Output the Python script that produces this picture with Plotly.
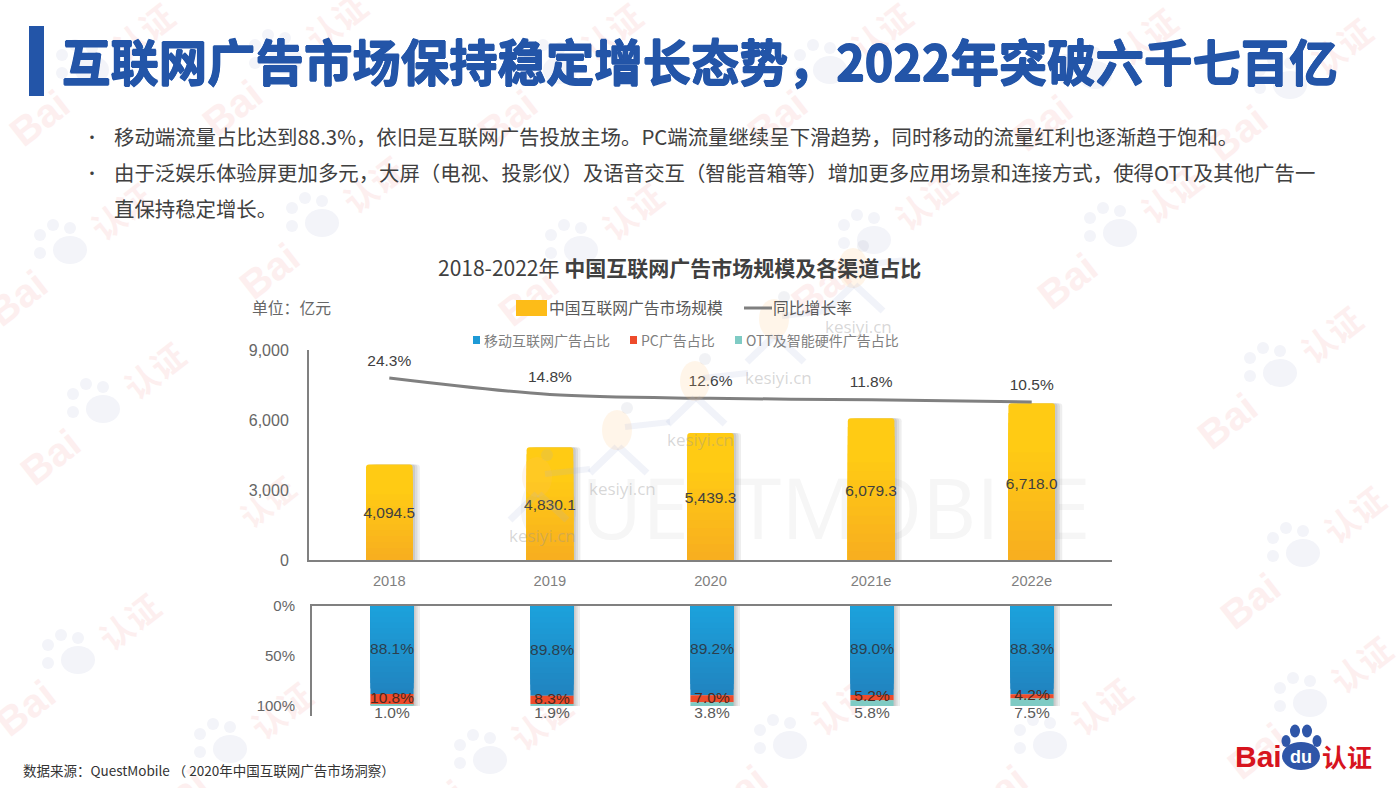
import plotly.graph_objects as go

W, H = 1400, 788
categories = ["2018", "2019", "2020", "2021e", "2022e"]
market_size = [4094.5, 4830.1, 5439.3, 6079.3, 6718.0]
growth_rate = [24.3, 14.8, 12.6, 11.8, 10.5]
mobile_share = [88.1, 89.8, 89.2, 89.0, 88.3]
pc_share = [10.8, 8.3, 7.0, 5.2, 4.2]
ott_share = [1.0, 1.9, 3.8, 5.8, 7.5]
value_ticks = [0, 3000, 6000, 9000]
share_ticks = [0, 50, 100]

CJK = "Noto Sans CJK SC"
LAT = "Liberation Sans"
BLUE = "#2355A8"

def px(x): return x / W
def py(y): return 1 - y / H
def mix(a, b, t):
    return "#" + "".join(f"{round(a[i] + (b[i] - a[i]) * t):02x}" for i in range(3))

fig = go.Figure()
ann, shp = [], []

def text(x, y, s, size=16, color="#404040", anchor="left", family=CJK, angle=0, weight=None, shadow=None):
    f = dict(size=size, color=color, family=family)
    if weight:
        f["weight"] = weight
    if shadow:
        f["shadow"] = shadow
    ann.append(dict(x=px(x), y=py(y), xref="paper", yref="paper", text=s, showarrow=False,
                    xanchor=anchor, yanchor="middle", font=f, textangle=angle,
                    align="left", borderpad=0))

def back_text(x, y, s, size, color, family=CJK, angle=0, weight=None):
    """Text drawn under the bars, as the label of an invisible shape."""
    f = dict(size=size, color=color, family=family)
    if weight:
        f["weight"] = weight
    shp.append(dict(type="rect", xref="paper", yref="paper", x0=px(x - 2), x1=px(x + 2),
                    y0=py(y + 2), y1=py(y - 2), fillcolor="rgba(0,0,0,0)", line_width=0, layer="below",
                    label=dict(text=s, font=f, textangle=angle, textposition="middle center")))

def circle(cx, cy, rx, ry, color, layer="below", line=None):
    s = dict(type="circle", xref="paper", yref="paper", x0=px(cx - rx), x1=px(cx + rx),
             y0=py(cy + ry), y1=py(cy - ry), fillcolor=color, line_width=0, layer=layer)
    if line:
        s["line"] = dict(color=line, width=2)
        s["fillcolor"] = "rgba(0,0,0,0)"
    shp.append(s)

def rect(x0, y0, x1, y1, color, layer="above"):
    shp.append(dict(type="rect", xref="paper", yref="paper", x0=px(x0), x1=px(x1),
                    y0=py(y1), y1=py(y0), fillcolor=color, line_width=0, layer=layer))

def stroke(x0, y0, x1, y1, color, width, layer="below"):
    shp.append(dict(type="line", xref="paper", yref="paper", x0=px(x0), x1=px(x1), y0=py(y0), y1=py(y1),
                    line=dict(color=color, width=width), layer=layer))

# Background "Baidu 认证" watermarks, one per paw centre
RED_W, BLUE_W = "#fdefef", "#f3f4f9"
def watermark(cx, cy):
    back_text(cx - 55, cy + 45, "Bai", 40, RED_W, LAT, -38, 700)
    circle(cx, cy, 17, 14, BLUE_W)
    for dx, dy, in [(-30, -15), (-17, -25), (0, -22), (-30, 3)]:
        circle(cx + dx, cy + dy, 6, 6, BLUE_W)
    back_text(cx + 54, cy - 35, "认证", 33, RED_W, CJK, -38, 700)

for c in [(92, 70), (285, 60), (560, 70), (830, 70), (1095, 75), (1290, 85),
          (70, 250), (322, 223), (581, 250), (874, 240), (1120, 233),
          (103, 409), (1280, 373), (1303, 553), (78, 660), (1310, 703),
          (230, 749), (490, 760), (790, 745), (1050, 745)]:
    watermark(*c)

# Faint third-party marks behind and over the chart
for r in (40, 75, 110):
    circle(370, 500, r, r, None, "below", "#f8f8f8")
back_text(270, 505, "认证", 30, "#fdf0ef", CJK, -38, 700)
back_text(803, 512, "QUESTMOBILE", 84, "#f6f6f6", "Open Sans")

def runner(cx, cy):
    a = 0.16
    circle(cx, cy - 17, 15, 20, f"rgba(253,190,120,{a})", "above")
    circle(cx + 10, cy - 39, 6, 6, f"rgba(170,175,190,{a})", "above")
    stroke(cx + 8, cy - 20, cx + 53, cy - 25, f"rgba(170,180,215,{a})", 6, "above")
    stroke(cx, cy, cx - 27, cy + 26, f"rgba(170,180,215,{a})", 7, "above")
    stroke(cx + 2, cy, cx + 30, cy + 26, f"rgba(170,180,215,{a})", 7, "above")

for (cx, cy) in [(858, 326), (779, 377), (700, 439), (622, 488), (542, 535)]:
    runner(cx - 5, cy - 41)
    text(cx, cy, "kesiyi.cn", 17, "rgba(150,150,150,0.38)", "center", "Open Sans")

# Header
rect(29, 26, 44, 96, BLUE, "below")
thick = f"0.7px 0 0 {BLUE}, -0.7px 0 0 {BLUE}, 0 0.7px 0 {BLUE}, 0 -0.7px 0 {BLUE}"
text(61, 60, "互联网广告市场保持稳定增长态势，2022年突破六千七百亿", 48.4, BLUE, weight=700, shadow=thick)
body = [
    (136, "移动端流量占比达到88.3%，依旧是互联网广告投放主场。PC端流量继续呈下滑趋势，同时移动的流量红利也逐渐趋于饱和。"),
    (172, "由于泛娱乐体验屏更加多元，大屏（电视、投影仪）及语音交互（智能音箱等）增加更多应用场景和连接方式，使得OTT及其他广告一"),
    (208, "直保持稳定增长。"),
]
for y, s in body:
    text(113, y, s, 20.4, "#404040")
text(92, 136, "•", 16, "#404040", "center")
text(92, 172, "•", 16, "#404040", "center")

# Chart title, unit and legend rows
text(437, 267, "2018-2022年 <b>中国互联网广告市场规模及各渠道占比</b>", 21, "#404040")
text(251, 308, "单位：亿元", 15.8, "#666666")
shp.append(dict(type="rect", xref="paper", yref="paper", x0=px(516), x1=px(547), y0=py(316), y1=py(300),
                fillcolor="#FDBC18", line_width=0, layer="above"))
text(548, 308, "中国互联网广告市场规模", 15.8, "#595959")
stroke(744, 308, 772, 308, "#7f7f7f", 3, "above")
text(772, 308, "同比增长率", 15.8, "#595959")
rect(473, 336, 480, 344, "#1E9AD6")
text(483, 340, "移动互联网广告占比", 14, "#7f7f7f")
rect(630, 336, 637, 344, "#EE4B2B")
text(640, 340, "PC广告占比", 14, "#7f7f7f")
rect(735, 336, 742, 344, "#7FCBC4")
text(745, 340, "OTT及智能硬件广告占比", 14, "#7f7f7f")

# Footer
text(22, 770, "数据来源：QuestMobile （ 2020年中国互联网广告市场洞察）", 13.5, "#333333")

# Logo
text(1258, 756, "Bai", 30, "#D7141E", "center", LAT, 0, 700)
circle(1301, 756, 19, 14, "#2F56A8", "above")
for (cx, cy, rx, ry) in [(1286, 741, 4.5, 6), (1295, 731, 5, 6.5), (1307, 731, 5, 6.5), (1317, 741, 4.5, 6)]:
    circle(cx, cy, rx, ry, "#2F56A8", "above")
text(1301, 757, "du", 18, "#ffffff", "center", LAT, 0, 700)
text(1347, 756, "认证", 25, "#D7141E", "center", CJK, 0, 700)

# Upper panel: bars with a soft shadow and stepped vertical gradient
TOP_W = 0.29
for off, alpha in [(0.045, 0.10), (0.03, 0.12), (0.015, 0.14)]:
    fig.add_trace(go.Bar(x=categories, y=market_size, width=TOP_W, offset=-TOP_W / 2 + off,
                         marker=dict(color=f"rgba(90,90,90,{alpha})", cornerradius=3, line_width=0),
                         hoverinfo="skip", showlegend=False))
GRAD = 16
y_top, y_bot = (255, 203, 20), (247, 172, 32)
for i in range(GRAD):
    k = 1 - i / GRAD
    col = mix(y_top, y_bot, max(0, (i / GRAD - 0.25) / 0.75))
    fig.add_trace(go.Bar(x=categories, y=[v * k for v in market_size], width=TOP_W,
                         marker=dict(color=col, cornerradius=3 if i == 0 else 0, line_width=0),
                         hoverinfo="skip", showlegend=False, name="中国互联网广告市场规模"))
fig.add_trace(go.Scatter(x=categories, y=[v * 0.48 for v in market_size], mode="text",
                         text=[f"{v:,.1f}" for v in market_size], textposition="middle center",
                         textfont=dict(size=15.5, color="#404040", family=LAT),
                         cliponaxis=False, showlegend=False, hoverinfo="skip"))
fig.add_trace(go.Scatter(x=categories, y=growth_rate, yaxis="y3", mode="lines+markers+text",
                         line=dict(color="#808080", width=3, shape="spline", smoothing=0.9),
                         marker=dict(size=12, color="rgba(0,0,0,0)", line_width=0),
                         text=[f"{v:.1f}%" for v in growth_rate], textposition="top center",
                         textfont=dict(size=15.5, color="#404040", family=LAT),
                         cliponaxis=False, showlegend=False, name="同比增长率"))

# Lower panel: 100% stacked shares, growing downward
LOW_W = 0.27
pc_end = [a + b for a, b in zip(mobile_share, pc_share)]
ott_end = [a + b for a, b in zip(pc_end, ott_share)]
for off, alpha in [(0.04, 0.10), (0.025, 0.12), (0.012, 0.14)]:
    fig.add_trace(go.Bar(x=categories, y=ott_end, xaxis="x2", yaxis="y2", width=LOW_W,
                         offset=-LOW_W / 2 + off, marker=dict(color=f"rgba(90,90,90,{alpha})", line_width=0),
                         hoverinfo="skip", showlegend=False))
b_top, b_bot = (28, 163, 221), (32, 132, 192)
for i in range(GRAD):
    k = 1 - i / GRAD
    fig.add_trace(go.Bar(x=categories, y=[v * k for v in mobile_share], base=[0] * 5,
                         xaxis="x2", yaxis="y2", width=LOW_W,
                         marker=dict(color=mix(b_top, b_bot, k), line_width=0),
                         hoverinfo="skip", showlegend=False))
fig.add_trace(go.Bar(x=categories, y=pc_share, base=mobile_share, xaxis="x2", yaxis="y2", width=LOW_W,
                     marker=dict(color="#EE4B2B", line_width=0), hoverinfo="skip", showlegend=False))
fig.add_trace(go.Bar(x=categories, y=ott_share, base=pc_end, xaxis="x2", yaxis="y2", width=LOW_W,
                     marker=dict(color="#7FCBC4", line_width=0), hoverinfo="skip", showlegend=False))
label_font = dict(size=15.5, color="#2b3f4e", family=LAT)
fig.add_trace(go.Scatter(x=categories, y=[v / 2 for v in mobile_share], xaxis="x2", yaxis="y2", mode="text",
                         text=[f"{v:.1f}%" for v in mobile_share], textfont=label_font,
                         cliponaxis=False, showlegend=False, hoverinfo="skip"))
fig.add_trace(go.Scatter(x=categories, y=[a + b / 2 for a, b in zip(mobile_share, pc_share)],
                         xaxis="x2", yaxis="y2", mode="text",
                         text=[f"{v:.1f}%" for v in pc_share],
                         textfont=dict(size=15.5, color="#4a2a20", family=LAT),
                         cliponaxis=False, showlegend=False, hoverinfo="skip"))
fig.add_trace(go.Scatter(x=categories, y=[100] * 5, xaxis="x2", yaxis="y2", mode="text",
                         text=[f"{v:.1f}%" for v in ott_share], textposition="bottom center",
                         textfont=dict(size=15.5, color="#595959", family=LAT),
                         cliponaxis=False, showlegend=False, hoverinfo="skip"))

tick = dict(size=16, color="#666666", family=LAT)
fig.update_layout(
    width=W, height=H, margin=dict(l=0, r=0, t=0, b=0, autoexpand=False), paper_bgcolor="white",
    plot_bgcolor="rgba(0,0,0,0)", barmode="overlay", showlegend=False, annotations=ann, shapes=shp,
    xaxis=dict(domain=[px(309), px(1112)], type="category", categoryorder="array", categoryarray=categories,
               range=[-0.5, 4.5], showline=True, linecolor="#808080", linewidth=2, showgrid=False, ticks="",
               tickfont=dict(size=14.7, color="#7f7f7f", family=LAT), ticklabelstandoff=6, anchor="y",
               automargin=False),
    yaxis=dict(domain=[py(560), py(350)], range=[0, 9000], tickvals=value_ticks,
               ticktext=[f"{t:,}" for t in value_ticks], showline=True,
               linecolor="#808080", linewidth=2, showgrid=False, zeroline=False, ticks="", tickfont=tick,
               ticklabelstandoff=15, anchor="x", automargin=False),
    yaxis3=dict(domain=[py(560), py(350)], range=[-80.3, 40.4], overlaying="y", visible=False, anchor="x",
                automargin=False),
    xaxis2=dict(domain=[px(312), px(1112)], type="category", categoryorder="array", categoryarray=categories,
                range=[-0.5, 4.5], side="top", showline=True, linecolor="#808080", linewidth=2, showgrid=False,
                ticks="", showticklabels=False, anchor="y2", automargin=False),
    yaxis2=dict(domain=[py(716), py(606)], range=[110, 0], tickvals=share_ticks,
                ticktext=[f"{t}%" for t in share_ticks], showline=True,
                linecolor="#808080", linewidth=2, showgrid=False, zeroline=False, ticks="",
                tickfont=dict(size=15, color="#666666", family=LAT),
                ticklabelstandoff=12, anchor="x2", automargin=False),
)
fig.write_html("out.html", post_script="document.body.style.margin='0';document.body.style.overflow='hidden';",
               config=dict(displayModeBar=False))
